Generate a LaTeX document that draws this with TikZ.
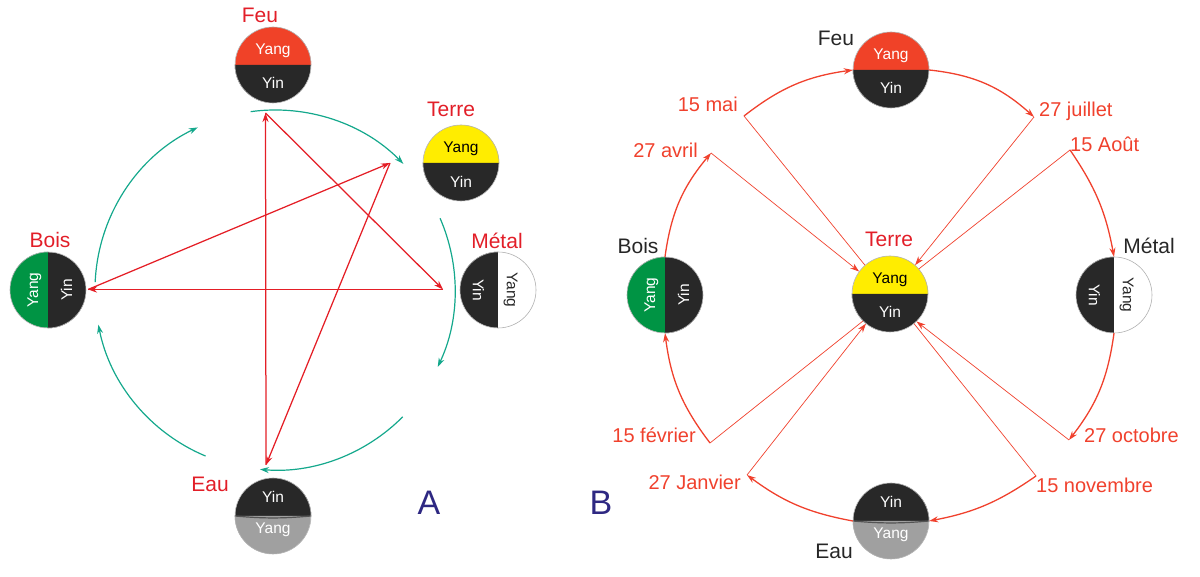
\documentclass[tikz,border=0pt]{standalone}
\usepackage{fontspec}
\setmainfont{Liberation Sans}
\usetikzlibrary{arrows.meta}
\definecolor{feucol}{RGB}{240,66,40}
\definecolor{terrecol}{RGB}{255,237,0}
\definecolor{boiscol}{RGB}{0,148,68}
\definecolor{darkcol}{RGB}{40,40,40}
\definecolor{eaucol}{RGB}{160,160,160}
\definecolor{shengcol}{RGB}{20,168,140}
\definecolor{kocol}{RGB}{228,30,38}
\definecolor{datecol}{RGB}{240,65,45}
\definecolor{labred}{RGB}{226,30,40}
\definecolor{letterblue}{RGB}{46,40,130}

\begin{document}
\begin{tikzpicture}[x=1pt,y=1pt,
  elem/.style={circle,minimum size=76pt,inner sep=0pt},
  rim/.style={draw=black!30,line width=0.6pt},
  namered/.style={text=labred,font=\fontsize{21}{24}\selectfont,anchor=base,inner sep=0pt},
  nameblack/.style={text=black!85,font=\fontsize{21}{24}\selectfont,anchor=base,inner sep=0pt},
  half/.style={font=\fontsize{15.5}{17}\selectfont,inner sep=0pt},
  datelbl/.style={text=datecol,font=\fontsize{20}{24}\selectfont,inner sep=0pt},
  sheng/.style={draw=shengcol,line width=1.2pt,-{Stealth[length=9pt,width=6pt]}},
  ko/.style={draw=kocol,line width=1.25pt,-{Stealth[length=9pt,width=6pt]}},
  season/.style={draw=datecol,line width=1.3pt,-{Stealth[length=9pt,width=6pt]}},
  ray/.style={draw=datecol,line width=0.7pt},
  rayarrow/.style={ray,-{Stealth[length=9pt,width=6pt]}}]
\useasboundingbox (0,0) rectangle (1200,577);

% A : the two cycles
\node[elem] (feuA) at (273,512) {};
\fill[feucol] (feuA.east) arc (0:180:38) -- cycle;
\fill[darkcol] (feuA.west) arc (180:360:38) -- cycle;
\draw[rim] (feuA) circle (38);
\node[half,text=white,anchor=base] (feuAyang) at ([yshift=10.5pt]feuA.center) {Yang};
\node[half,text=white,anchor=base] (feuAyin) at ([yshift=-24pt]feuA.center) {Yin};
\node[namered] (feuAname) at (260,554) {Feu};

\node[elem] (terreA) at (461,414) {};
\fill[terrecol] (terreA.east) arc (0:180:38) -- cycle;
\fill[darkcol] (terreA.west) arc (180:360:38) -- cycle;
\draw[rim] (terreA) circle (38);
\node[half,text=black,anchor=base] (terreAyang) at ([yshift=10.5pt]terreA.center) {Yang};
\node[half,text=white,anchor=base] (terreAyin) at ([yshift=-25pt]terreA.center) {Yin};
\node[namered] (terreAname) at (451,460) {Terre};

\node[elem] (boisA) at (48,287) {};
\fill[boiscol] (boisA.north) arc (90:270:38) -- cycle;
\fill[darkcol] (boisA.south) arc (-90:90:38) -- cycle;
\draw[rim] (boisA) circle (38);
\node[half,text=white,rotate=90] (boisAyang) at ([xshift=-13.5pt]boisA.center) {Yang};
\node[half,text=white,rotate=90] (boisAyin) at ([xshift=18.5pt]boisA.center) {Yin};
\node[namered] (boisAname) at (50,329) {Bois};

\node[elem] (metalA) at (498,287) {};
\fill[darkcol] (metalA.north) arc (90:270:38) -- cycle;
\fill[white] (metalA.south) arc (-90:90:38) -- cycle;
\draw[rim] (metalA) circle (38);
\node[half,text=white,rotate=-90] (metalAyin) at ([xshift=-19.5pt]metalA.center) {Yin};
\node[half,text=darkcol,rotate=-90] (metalAyang) at ([xshift=12.5pt]metalA.center) {Yang};
\node[namered] (metalAname) at (497,328) {Métal};

\node[elem] (eauA) at (273,61) {};
\fill[darkcol] (eauA.east) arc (0:180:38) -- cycle;
\fill[eaucol] (eauA.west) arc (180:360:38) -- cycle;
\draw[darkcol!80,line width=1.2pt] (eauA.west) to[bend right=5] (eauA.east);
\draw[rim] (eauA) circle (38);
\node[half,text=white,anchor=base] (eauAyin) at ([yshift=13pt]eauA.center) {Yin};
\node[half,text=white,anchor=base] (eauAyang) at ([yshift=-18pt]eauA.center) {Yang};
\node[namered] (eauAname) at (210,85) {Eau};

\node[text=letterblue,font=\fontsize{34}{38}\selectfont,anchor=base,inner sep=0pt] (letterA) at (429,62) {A};

% generating cycle
\coordinate (ctrA) at (275,287);
\draw[sheng] (ctrA) ++(177.5:180) arc (177.5:115.4:180);
\draw[sheng] (ctrA) ++(97.8:180) arc (97.8:44.5:180);
\draw[sheng] (ctrA) ++(23.5:180) arc (23.5:-25.3:180);
\draw[sheng] (ctrA) ++(-44.8:180) arc (-44.8:-94.8:180);
\draw[sheng] (ctrA) ++(-112.7:180) arc (-112.7:-168.9:180);

% controlling cycle
\coordinate (kF) at (265.5,464);
\coordinate (kM) at (443,287.5);
\coordinate (kB) at (88,287.5);
\coordinate (kT) at (390,414);
\coordinate (kE) at (266,112);
\draw[ko] (kE) -- (kF);
\draw[ko] (kF) -- (kM);
\draw[ko] (kM) -- (kB);
\draw[ko] (kB) -- (kT);
\draw[ko] (kT) -- (kE);

% B : the seasons
\node[elem] (feuB) at (891,507) {};
\fill[feucol] (feuB.east) arc (0:180:38) -- cycle;
\fill[darkcol] (feuB.west) arc (180:360:38) -- cycle;
\draw[rim] (feuB) circle (38);
\node[half,text=white,anchor=base] (feuByang) at ([yshift=10.5pt]feuB.center) {Yang};
\node[half,text=white,anchor=base] (feuByin) at ([yshift=-24pt]feuB.center) {Yin};
\node[nameblack] (feuBname) at (836,531) {Feu};

\node[elem] (terreB) at (890,283) {};
\fill[terrecol] (terreB.east) arc (0:180:38) -- cycle;
\fill[darkcol] (terreB.west) arc (180:360:38) -- cycle;
\draw[rim] (terreB) circle (38);
\node[half,text=black,anchor=base] (terreByang) at ([yshift=10.5pt]terreB.center) {Yang};
\node[half,text=white,anchor=base] (terreByin) at ([yshift=-24pt]terreB.center) {Yin};
\node[namered] (terreBname) at (889,330) {Terre};

\node[elem] (boisB) at (665,282) {};
\fill[boiscol] (boisB.north) arc (90:270:38) -- cycle;
\fill[darkcol] (boisB.south) arc (-90:90:38) -- cycle;
\draw[rim] (boisB) circle (38);
\node[half,text=white,rotate=90] (boisByang) at ([xshift=-13.5pt]boisB.center) {Yang};
\node[half,text=white,rotate=90] (boisByin) at ([xshift=18.5pt]boisB.center) {Yin};
\node[nameblack] (boisBname) at (638,323) {Bois};

\node[elem] (metalB) at (1114,282) {};
\fill[darkcol] (metalB.north) arc (90:270:38) -- cycle;
\fill[white] (metalB.south) arc (-90:90:38) -- cycle;
\draw[rim] (metalB) circle (38);
\node[half,text=white,rotate=-90] (metalByin) at ([xshift=-19.5pt]metalB.center) {Yin};
\node[half,text=darkcol,rotate=-90] (metalByang) at ([xshift=12.5pt]metalB.center) {Yang};
\node[nameblack] (metalBname) at (1149,323) {Métal};

\node[elem] (eauB) at (891,56) {};
\fill[darkcol] (eauB.east) arc (0:180:38) -- cycle;
\fill[eaucol] (eauB.west) arc (180:360:38) -- cycle;
\draw[darkcol!80,line width=1.2pt] (eauB.west) to[bend right=5] (eauB.east);
\draw[rim] (eauB) circle (38);
\node[half,text=white,anchor=base] (eauByin) at ([yshift=13pt]eauB.center) {Yin};
\node[half,text=white,anchor=base] (eauByang) at ([yshift=-18pt]eauB.center) {Yang};
\node[nameblack] (eauBname) at (834,18) {Eau};

\node[text=letterblue,font=\fontsize{34}{38}\selectfont,anchor=base,inner sep=0pt] (letterB) at (601,62) {B};

% dates
\coordinate (mai) at (744,461);
\coordinate (juillet) at (1034,460);
\coordinate (aout) at (1070,427);
\coordinate (avril) at (711,424);
\coordinate (fevrier) at (710,134);
\coordinate (janvier) at (747,102);
\coordinate (octobre) at (1069,137);
\coordinate (novembre) at (1036,101);
\node[datelbl,anchor=base east] (mailbl) at (738,465) {15 mai};
\node[datelbl,anchor=base west] (juilletlbl) at (1039,460) {27 juillet};
\node[datelbl,anchor=base west] (aoutlbl) at (1070,425) {15 Août};
\node[datelbl,anchor=base east] (avrillbl) at (698,419) {27 avril};
\node[datelbl,anchor=base east] (fevrierlbl) at (696,134) {15 février};
\node[datelbl,anchor=base east] (janvierlbl) at (741,87) {27 Janvier};
\node[datelbl,anchor=base west] (octobrelbl) at (1084,134) {27 octobre};
\node[datelbl,anchor=base west] (novembrelbl) at (1036,84) {15 novembre};

\draw[season] (mai) to[bend left=15] (feuB.west);
\draw[season] (feuB.east) to[bend left=18] (juillet);
\draw[season] (aout) to[bend left=12] (metalB.north);
\draw[season] (metalB.south) to[bend left=15] (octobre);
\draw[season] (novembre) to[bend left=12] (eauB.east);
\draw[season] (eauB.west) to[bend left=13] (janvier);
\draw[season] (fevrier) to[bend left=15] (boisB.south);
\draw[season] (boisB.north) to[bend left=16] (avril);

\draw[ray] (mai) -- (terreB.131);
\draw[rayarrow] (avril) -- (terreB.144);
\draw[rayarrow] (juillet) -- (terreB.49);
\draw[ray] (aout) -- (terreB.41);
\draw[ray] (fevrier) -- (terreB.225);
\draw[rayarrow] (janvier) -- (terreB.231);
\draw[rayarrow] (octobre) -- (terreB.314);
\draw[ray] (novembre) -- (terreB.309);
\end{tikzpicture}
\end{document}
